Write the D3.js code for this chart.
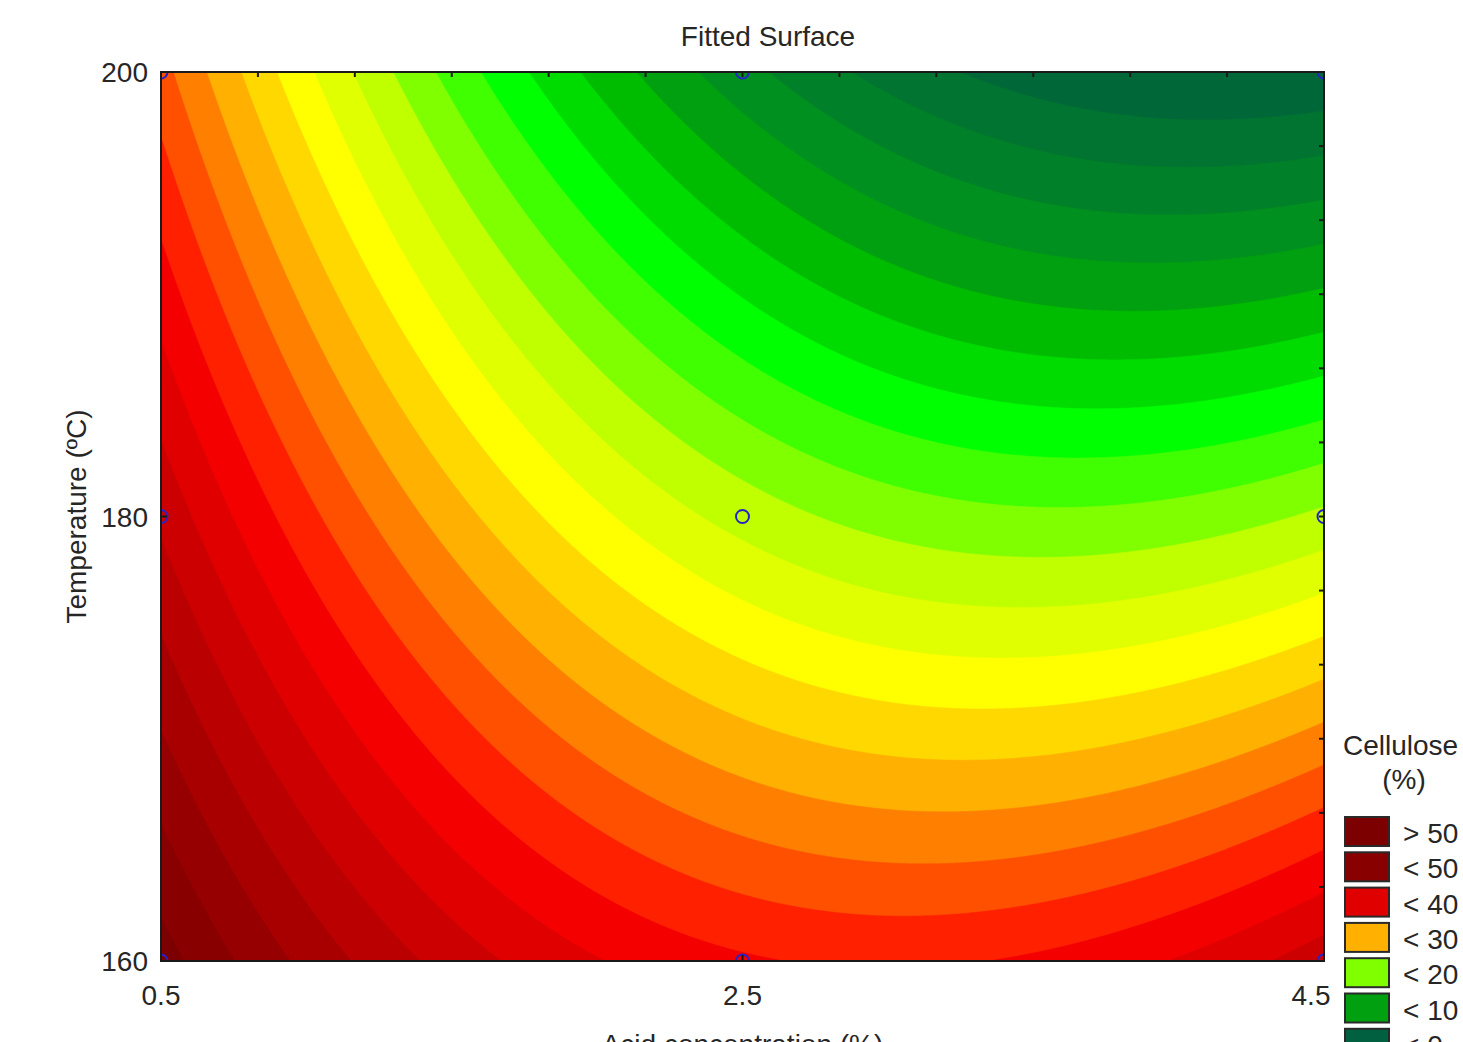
<!DOCTYPE html>
<html>
<head>
<meta charset="utf-8">
<script src="https://cdn.jsdelivr.net/npm/d3@7"></script>
<style>
  body { margin: 0; background: #fff; }
  text { font-family: "Liberation Sans", Arial, sans-serif; fill: #262626; }
</style>
</head>
<body>
<svg id="chart" width="1463" height="1042"></svg>
<script>
// design points of the 3x3 experiment
const designAcid = [0.5, 2.5, 4.5];
const designTemp = [160, 180, 200];

// axis tick labels
const acidTicks = [0.5, 2.5, 4.5];
const tempTicks = [160, 180, 200];

// fitted quadratic model, coded units (a = acid, t = temperature)
const termNames = ["const", "a", "t", "a^2", "t^2", "a*t"];
const coef = [21.2, -10.55, -14.8, 9.8, 0.3, -5.7];

// contour levels (Cellulose %) and band colours, lowest band first
const levels = [0, 2, 4, 6, 8, 10, 12, 14, 16, 18, 20, 22, 24, 26, 28, 30, 32, 34, 36, 38, 40, 42, 44, 46, 48, 50];
const bandColors = ["#006040", "#006838", "#007430", "#008028", "#009020", "#00a010",
  "#00bc00", "#00dc00", "#00ff00", "#40ff00", "#80ff00", "#c0ff00", "#e0ff00", "#ffff00",
  "#ffd800", "#ffb000", "#ff8000", "#ff5000", "#ff2000", "#f40000", "#e00000", "#cc0000",
  "#ba0000", "#a80000", "#960000", "#880000", "#7c0000"];

// legend entries
const legendLabels = ["> 50", "< 50", "< 40", "< 30", "< 20", "< 10", "< 0"];
const legendBands = [26, 25, 20, 15, 10, 5, 0];

const plot = {left: 161, right: 1324, top: 72, bottom: 961};
const svg = d3.select("#chart");

const x = d3.scaleLinear().domain([0.5, 4.5]).range([plot.left, plot.right]);
const y = d3.scaleLinear().domain([160, 200]).range([plot.bottom, plot.top]);

const aMid = d3.mean(designAcid), aHalf = (d3.max(designAcid) - d3.min(designAcid)) / 2;
const tMid = d3.mean(designTemp), tHalf = (d3.max(designTemp) - d3.min(designTemp)) / 2;

function model(acid, temp) {
    const a = (acid - aMid) / aHalf;
    const t = (temp - tMid) / tHalf;
    return coef[0] + coef[1] * a + coef[2] * t + coef[3] * a * a + coef[4] * t * t + coef[5] * a * t;
}

// sample the surface on a grid
const nx = 582, ny = 445;
const gx = d3.scaleLinear().domain([0, nx]).range(x.domain());
const gy = d3.scaleLinear().domain([0, ny]).range(y.domain().slice().reverse());
const values = new Float64Array(nx * ny);
for (let j = 0; j < ny; j++) {
    for (let i = 0; i < nx; i++) {
        values[j * nx + i] = model(gx(i + 0.5), gy(j + 0.5));
    }
}

const contours = d3.contours().size([nx, ny]).thresholds(levels)(values);

const toScreen = d3.geoTransform({
    point: function(c, r) { this.stream.point(x(gx(c)), y(gy(r))); }
});
const path = d3.geoPath(toScreen);

svg.append("clipPath").attr("id", "plotClip")
    .append("rect")
    .attr("x", plot.left).attr("y", plot.top)
    .attr("width", plot.right - plot.left).attr("height", plot.bottom - plot.top);

const surface = svg.append("g").attr("clip-path", "url(#plotClip)");

surface.append("rect")
    .attr("x", plot.left).attr("y", plot.top)
    .attr("width", plot.right - plot.left).attr("height", plot.bottom - plot.top)
    .attr("fill", bandColors[0]);

surface.selectAll("path.band")
    .data(contours)
    .join("path")
    .attr("class", "band")
    .attr("d", path)
    .attr("fill", (d, k) => bandColors[k + 1])
    .attr("stroke", (d, k) => bandColors[k + 1])
    .attr("stroke-width", 0.6);

// design points
const pts = designAcid.flatMap(a => designTemp.map(t => ({a, t})));
surface.selectAll("circle.pt")
    .data(pts)
    .join("circle")
    .attr("class", "pt")
    .attr("cx", d => x(d.a))
    .attr("cy", d => y(d.t))
    .attr("r", 6.5)
    .attr("fill", "none")
    .attr("stroke", "#2424c8")
    .attr("stroke-width", 2);

// frame
svg.append("rect")
    .attr("x", plot.left).attr("y", plot.top)
    .attr("width", plot.right - plot.left).attr("height", plot.bottom - plot.top)
    .attr("fill", "none")
    .attr("stroke", "#1a1a1a")
    .attr("stroke-width", 2);

// inner ticks: minor on top and right, major on bottom and left
const minorAcid = d3.range(13).map(i => x.invert(plot.left + i * (plot.right - plot.left) / 12));
const minorTemp = d3.range(13).map(i => y.invert(plot.bottom - i * (plot.bottom - plot.top) / 12));
const ticks = svg.append("g").attr("stroke", "#1a1a1a").attr("stroke-width", 2);
ticks.selectAll(null).data(minorAcid).join("line")
    .attr("x1", d => x(d)).attr("x2", d => x(d))
    .attr("y1", plot.top).attr("y2", plot.top + 5);
ticks.selectAll(null).data(minorTemp).join("line")
    .attr("y1", d => y(d)).attr("y2", d => y(d))
    .attr("x1", plot.right).attr("x2", plot.right - 5);
ticks.selectAll(null).data(acidTicks).join("line")
    .attr("x1", d => x(d)).attr("x2", d => x(d))
    .attr("y1", plot.bottom).attr("y2", plot.bottom - 6);
ticks.selectAll(null).data(tempTicks).join("line")
    .attr("y1", d => y(d)).attr("y2", d => y(d))
    .attr("x1", plot.left).attr("x2", plot.left + 6);

// tick labels
svg.selectAll("text.xt")
    .data(acidTicks)
    .join("text")
    .attr("class", "xt")
    .attr("x", (d, i) => x(d) - (i === acidTicks.length - 1 ? 13 : 0))
    .attr("y", 1005)
    .attr("text-anchor", "middle")
    .attr("font-size", 28)
    .text(d => d3.format(".1f")(d));

svg.selectAll("text.yt")
    .data(tempTicks)
    .join("text")
    .attr("class", "yt")
    .attr("x", 148)
    .attr("y", d => y(d) + 10)
    .attr("text-anchor", "end")
    .attr("font-size", 28)
    .text(d => d);

// titles
svg.append("text")
    .attr("x", 768).attr("y", 46)
    .attr("text-anchor", "middle")
    .attr("font-size", 28)
    .text("Fitted Surface");

svg.append("text")
    .attr("transform", `translate(86,${(plot.top + plot.bottom) / 2}) rotate(-90)`)
    .attr("text-anchor", "middle")
    .attr("font-size", 28)
    .text("Temperature (ºC)");

svg.append("text")
    .attr("x", x(2.5)).attr("y", 1054)
    .attr("text-anchor", "middle")
    .attr("font-size", 28)
    .text("Acid concentration (%)");

// legend
const legend = svg.append("g");
legend.append("text")
    .attr("x", 1343).attr("y", 755)
    .attr("font-size", 28)
    .text("Cellulose");
legend.append("text")
    .attr("x", 1404).attr("y", 789)
    .attr("text-anchor", "middle")
    .attr("font-size", 28)
    .text("(%)");

const rows = legend.selectAll("g.row")
    .data(legendLabels)
    .join("g")
    .attr("class", "row")
    .attr("transform", (d, i) => `translate(1345,${817 + i * 35.3})`);
rows.append("rect")
    .attr("width", 44).attr("height", 29)
    .attr("fill", (d, i) => bandColors[legendBands[i]])
    .attr("stroke", "#2a2a2a")
    .attr("stroke-width", 2);
rows.append("text")
    .attr("x", 58).attr("y", 26)
    .attr("font-size", 28)
    .text(d => d);
</script>
</body>
</html>
